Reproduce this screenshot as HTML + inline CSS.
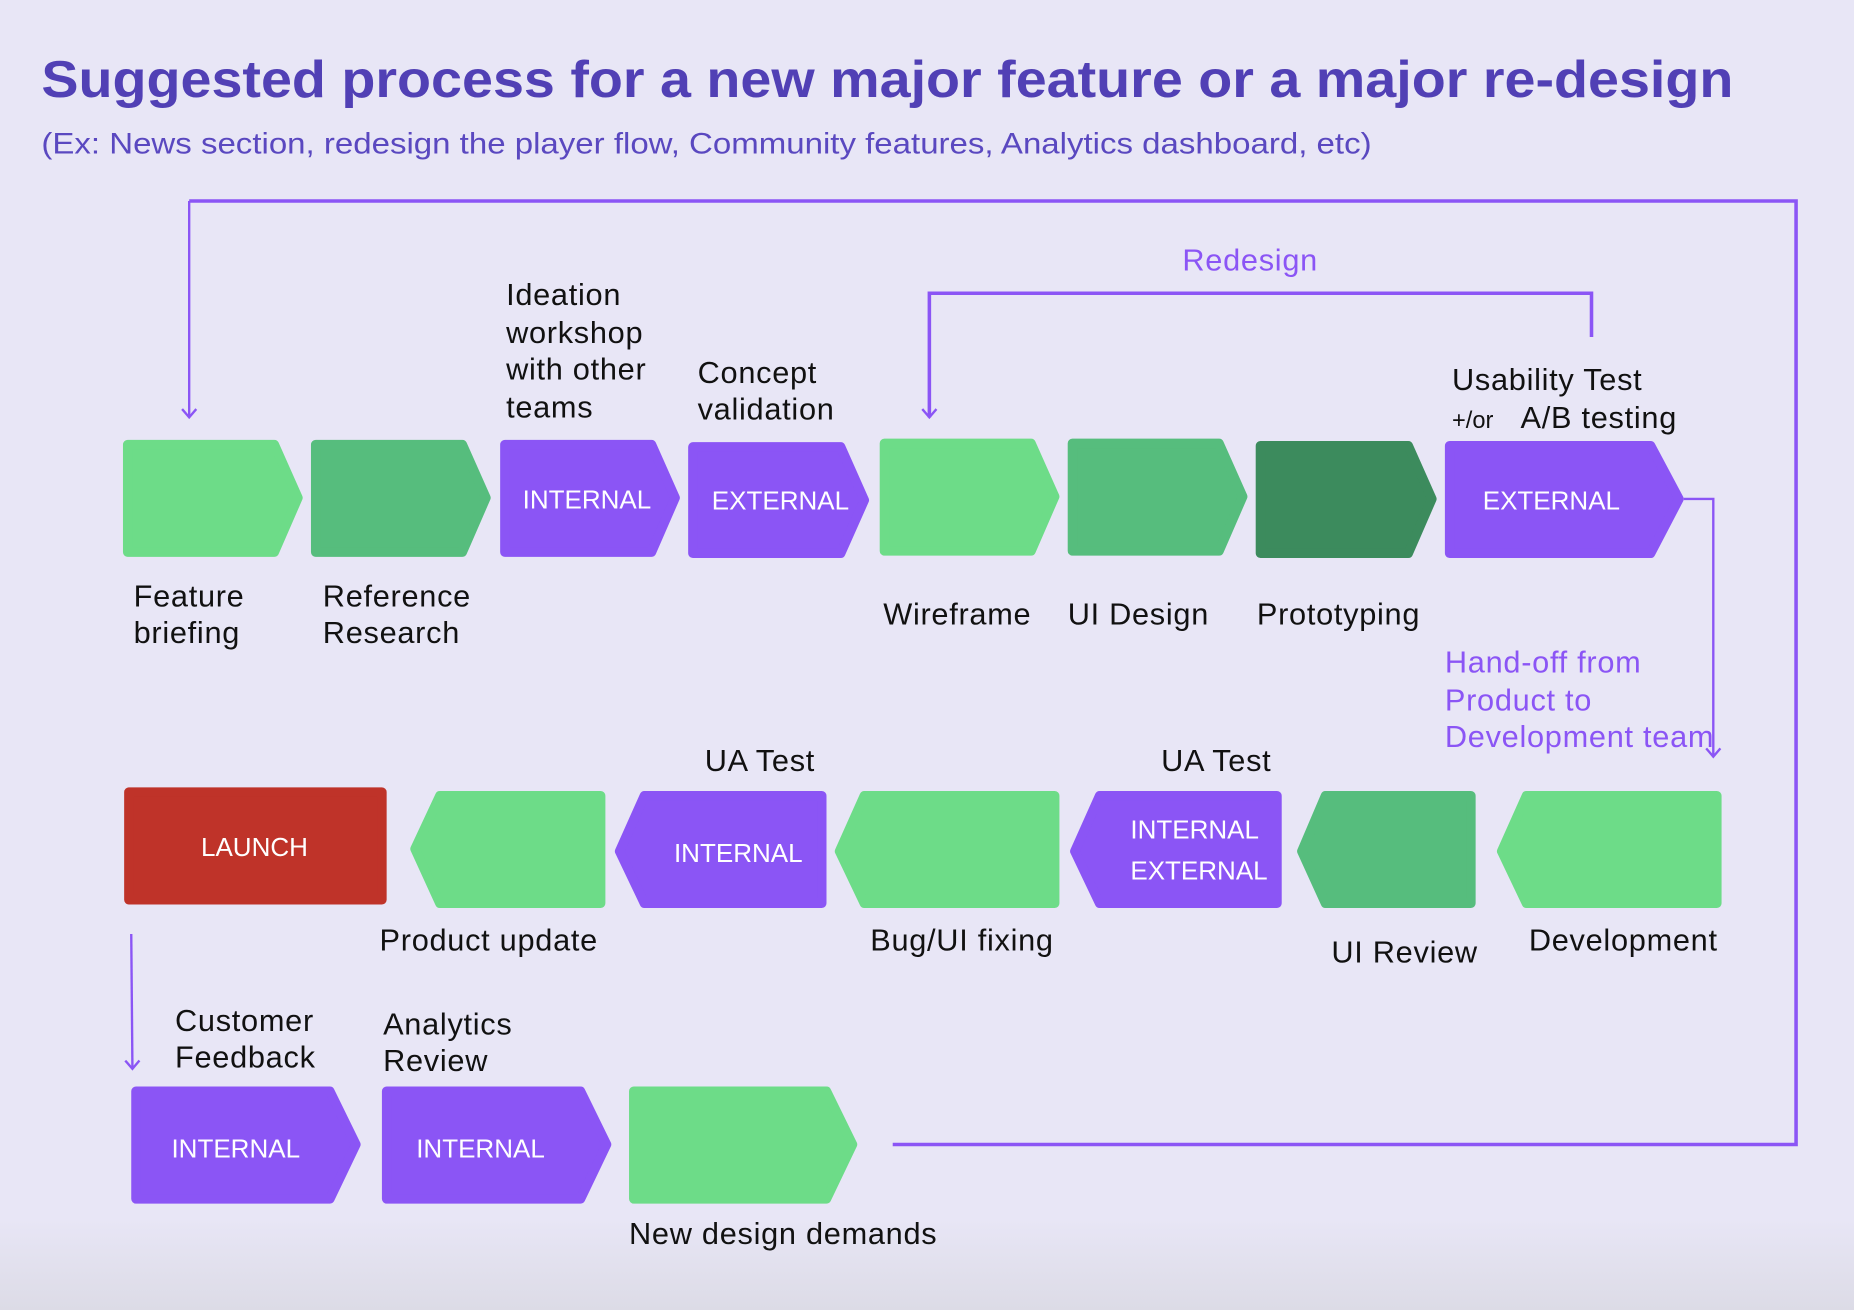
<!DOCTYPE html>
<html><head><meta charset="utf-8"><style>
html,body{margin:0;padding:0;background:#e8e6f6;}
svg{display:block}
text{font-family:"Liberation Sans",sans-serif;}
.lb{font-size:26px;fill:#111;letter-spacing:0.6px;}
.w{font-size:22px;fill:#fff;}
.p{font-size:26px;fill:#8b55f5;letter-spacing:0.6px;}
</style></head><body>
<svg width="1854" height="1310" viewBox="0 0 1568 1108" preserveAspectRatio="none" xmlns="http://www.w3.org/2000/svg">
<defs>
<marker id="ar" markerWidth="14" markerHeight="14" refX="11" refY="7" orient="auto" markerUnits="userSpaceOnUse">
<path d="M4,1 L11,7 L4,13" fill="none" stroke="#8b55f5" stroke-width="2"/>
</marker>
<linearGradient id="bg" x1="0" y1="0" x2="0" y2="1"><stop offset="0.93" stop-color="#e8e6f6"/><stop offset="1" stop-color="#dcdbe6"/></linearGradient>
</defs>
<rect width="1568" height="1108" fill="url(#bg)"/>
<text x="35" y="82" font-size="44" font-weight="bold" fill="#5140b5" textLength="1431" lengthAdjust="spacingAndGlyphs">Suggested process for a new major feature or a major re-design</text>
<text x="35" y="130" font-size="25" fill="#5a48c0" textLength="1125" lengthAdjust="spacingAndGlyphs">(Ex: News section, redesign the player flow, Community features, Analytics dashboard, etc)</text>

<polyline points="755,968 1519,968 1519,170 160,170" fill="none" stroke="#8b55f5" stroke-width="3"/>
<line x1="160" y1="170" x2="160" y2="353" stroke="#8b55f5" stroke-width="2" marker-end="url(#ar)"/>
<polyline points="1346,285 1346,248 786,248 786,353" fill="none" stroke="#8b55f5" stroke-width="3" marker-end="url(#ar)"/>
<text x="1000" y="229" class="p">Redesign</text>
<polyline points="1424,422 1449,422 1449,640" fill="none" stroke="#8b55f5" stroke-width="2" marker-end="url(#ar)"/>
<line x1="111" y1="790" x2="112" y2="904" stroke="#8b55f5" stroke-width="2" marker-end="url(#ar)"/>

<g stroke-linejoin="round" stroke-width="8">
<polygon points="108,376 232,376 252,421 232,467 108,467" fill="#6ddc88" stroke="#6ddc88"/>
<polygon points="267,376 391,376 411,421 391,467 267,467" fill="#56bd7d" stroke="#56bd7d"/>
<polygon points="427,376 551,376 571,421 551,467 427,467" fill="#8b55f5" stroke="#8b55f5"/>
<polygon points="586,378 711,378 731,423 711,468 586,468" fill="#8b55f5" stroke="#8b55f5"/>
<polygon points="748,375 872,375 892,420 872,466 748,466" fill="#6ddc88" stroke="#6ddc88"/>
<polygon points="907,375 1031,375 1051,420 1031,466 907,466" fill="#56bd7d" stroke="#56bd7d"/>
<polygon points="1066,377 1191,377 1211,422 1191,468 1066,468" fill="#3c8b5d" stroke="#3c8b5d"/>
<polygon points="1226,377 1396,377 1420,422 1396,468 1226,468" fill="#8b55f5" stroke="#8b55f5"/>
<rect x="109" y="670" width="214" height="91" fill="#bf3329" stroke="#bf3329"/>
<polygon points="351,718 372,673 508,673 508,764 372,764" fill="#6ddc88" stroke="#6ddc88"/>
<polygon points="524,720 545,673 695,673 695,764 545,764" fill="#8b55f5" stroke="#8b55f5"/>
<polygon points="710,720 731,673 892,673 892,764 731,764" fill="#6ddc88" stroke="#6ddc88"/>
<polygon points="909,720 930,673 1080,673 1080,764 930,764" fill="#8b55f5" stroke="#8b55f5"/>
<polygon points="1101,720 1121,673 1244,673 1244,764 1121,764" fill="#56bd7d" stroke="#56bd7d"/>
<polygon points="1270,720 1291,673 1452,673 1452,764 1291,764" fill="#6ddc88" stroke="#6ddc88"/>
<polygon points="115,923 279,923 301,968 279,1014 115,1014" fill="#8b55f5" stroke="#8b55f5"/>
<polygon points="327,923 491,923 513,968 491,1014 327,1014" fill="#8b55f5" stroke="#8b55f5"/>
<polygon points="536,923 699,923 721,968 699,1014 536,1014" fill="#6ddc88" stroke="#6ddc88"/>
</g>

<text x="442" y="430" class="w">INTERNAL</text>
<text x="602" y="431" class="w">EXTERNAL</text>
<text x="1254" y="431" class="w">EXTERNAL</text>
<text x="170" y="724" class="w">LAUNCH</text>
<text x="570" y="729" class="w">INTERNAL</text>
<text x="956" y="709" class="w">INTERNAL</text>
<text x="956" y="744" class="w">EXTERNAL</text>
<text x="145" y="979" class="w">INTERNAL</text>
<text x="352" y="979" class="w">INTERNAL</text>

<text class="lb"><tspan x="428" y="258">Ideation</tspan><tspan x="428" y="290">workshop</tspan><tspan x="428" y="321">with other</tspan><tspan x="428" y="353">teams</tspan></text>
<text class="lb"><tspan x="590" y="324">Concept</tspan><tspan x="590" y="355">validation</tspan></text>
<text class="lb"><tspan x="1228" y="330">Usability Test</tspan></text>
<text x="1228" y="362" font-size="20" fill="#111">+/or</text>
<text x="1286" y="362" class="lb">A/B testing</text>
<text class="lb"><tspan x="113" y="513">Feature</tspan><tspan x="113" y="544">briefing</tspan></text>
<text class="lb"><tspan x="273" y="513">Reference</tspan><tspan x="273" y="544">Research</tspan></text>
<text x="747" y="528" class="lb">Wireframe</text>
<text x="903" y="528" class="lb">UI Design</text>
<text x="1063" y="528" class="lb">Prototyping</text>
<text class="p"><tspan x="1222" y="569">Hand-off from</tspan><tspan x="1222" y="601">Product to</tspan><tspan x="1222" y="632">Development team</tspan></text>
<text x="596" y="652" class="lb">UA Test</text>
<text x="982" y="652" class="lb">UA Test</text>
<text x="321" y="804" class="lb">Product update</text>
<text x="736" y="804" class="lb">Bug/UI fixing</text>
<text x="1126" y="814" class="lb">UI Review</text>
<text x="1293" y="804" class="lb">Development</text>
<text class="lb"><tspan x="148" y="872">Customer</tspan><tspan x="148" y="903">Feedback</tspan></text>
<text class="lb"><tspan x="324" y="875">Analytics</tspan><tspan x="324" y="906">Review</tspan></text>
<text x="532" y="1052" class="lb">New design demands</text>
</svg>
</body></html>
